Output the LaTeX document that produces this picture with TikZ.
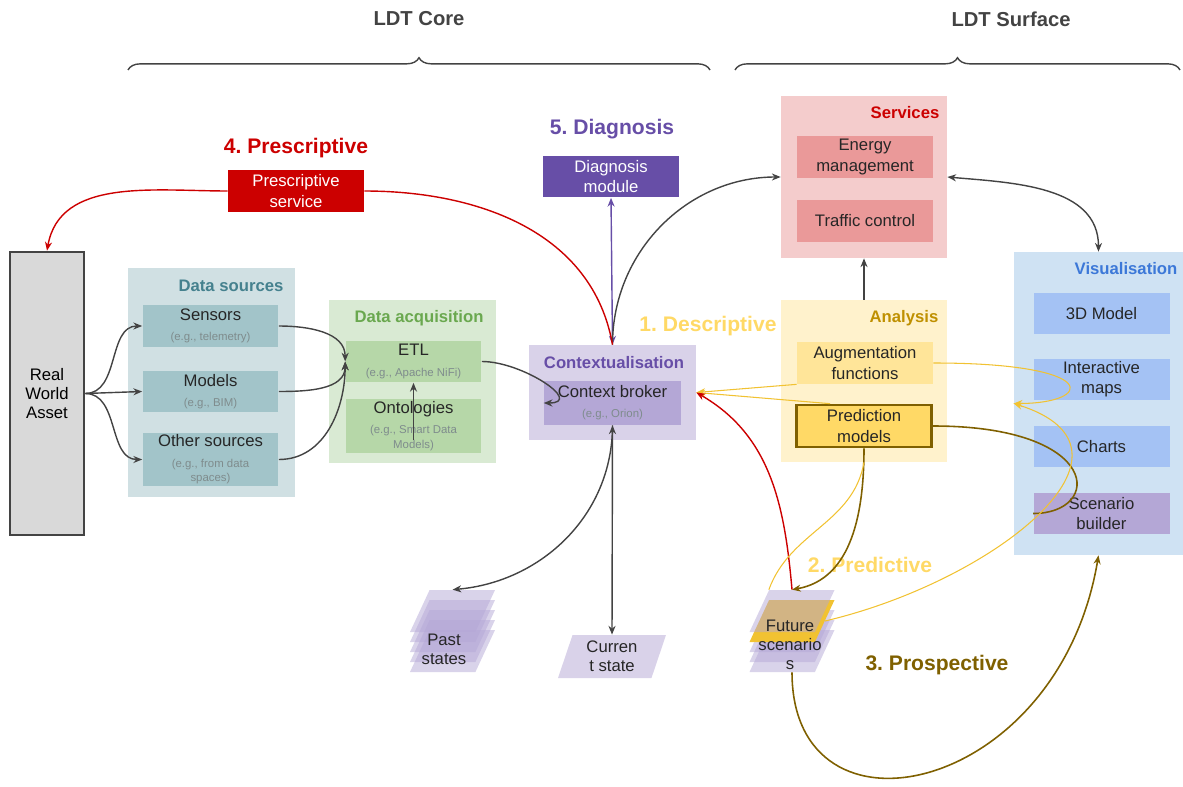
\documentclass[tikz,border=0pt]{standalone}
\usepackage{fontspec}
\setmainfont{Liberation Sans}
\usepackage{xcolor}
\usepackage{tikz}
\usetikzlibrary{shapes.geometric,decorations.pathreplacing,arrows.meta}

\definecolor{linec}{HTML}{434343}
\definecolor{rwafill}{HTML}{D9D9D9}
\definecolor{srcbg}{HTML}{D0E0E3}
\definecolor{srcbox}{HTML}{A2C4C9}
\definecolor{srctitle}{HTML}{45818E}
\definecolor{acqbg}{HTML}{D9EAD3}
\definecolor{acqbox}{HTML}{B6D7A8}
\definecolor{acqtitle}{HTML}{6AA84F}
\definecolor{ctxbg}{HTML}{D9D2E9}
\definecolor{ctxbox}{HTML}{B4A7D6}
\definecolor{ctxtitle}{HTML}{674EA7}
\definecolor{redc}{HTML}{CC0000}
\definecolor{servbg}{HTML}{F4CCCC}
\definecolor{servbox}{HTML}{EA9999}
\definecolor{anabg}{HTML}{FFF2CC}
\definecolor{anabox}{HTML}{FFE599}
\definecolor{predfill}{HTML}{FFD966}
\definecolor{olive}{HTML}{7F6000}
\definecolor{anatitle}{HTML}{BF9000}
\definecolor{visbg}{HTML}{CFE2F3}
\definecolor{visbox}{HTML}{A4C2F4}
\definecolor{vistitle}{HTML}{3C78D8}
\definecolor{ylinec}{HTML}{F1C232}
\definecolor{subc}{HTML}{7F8C8D}

\newcommand{\egnote}[1]{{\fontsize{6.5}{7.5}\selectfont\color{subc}#1}}
\newcommand{\layerstrut}{\rule{0pt}{0.84cm}}

\begin{document}
\frenchspacing
\begin{tikzpicture}[x=0.02cm, y=0.02cm, >={Stealth[length=5pt,width=4pt]}]
    % Define node styles
    \tikzstyle{group} = [rectangle, inner sep=0pt]
    \tikzstyle{item} = [rectangle, minimum width=2.72cm, minimum height=0.84cm, align=center, inner sep=1pt, font=\fontsize{9.5}{11.5}\selectfont, text=black!85]
    \tikzstyle{grouptitle} = [font=\fontsize{9.5}{11}\selectfont\bfseries]
    \tikzstyle{stage} = [font=\fontsize{12}{14}\selectfont\bfseries]
    \tikzstyle{stack} = [trapezium, trapezium left angle=65, trapezium right angle=115, trapezium stretches body, minimum width=1.7cm, inner sep=0pt, fill=ctxbox, fill opacity=0.5]
    \tikzstyle{flow} = [->, line width=0.8pt, draw=linec]
    \tikzstyle{redline} = [line width=0.8pt, draw=redc]
    \tikzstyle{yline} = [line width=0.6pt, draw=ylinec]
    \tikzstyle{oline} = [line width=0.9pt, draw=olive]

    \useasboundingbox (0,0) rectangle (1183,-787);

    % Braces on top
    \coordinate (coreL) at (128,-70);
    \coordinate (coreR) at (710,-70);
    \coordinate (surfL) at (735,-70);
    \coordinate (surfR) at (1180,-70);
    \draw[linec, line width=0.8pt, decorate, decoration={brace, amplitude=7pt}] (coreL) -- (coreR);
    \draw[linec, line width=0.8pt, decorate, decoration={brace, amplitude=7pt}] (surfL) -- (surfR);
    \node[stage, text=linec, font=\fontsize{11.5}{13}\selectfont\bfseries] (core) at (419,-19) {LDT Core};
    \node[stage, text=linec, font=\fontsize{11.5}{13}\selectfont\bfseries] (surf) at (1011,-19) {LDT Surface};

    % Real world asset
    \node[draw=linec, line width=1.5pt, fill=rwafill, minimum width=1.48cm, minimum height=5.66cm, align=center, font=\fontsize{9.5}{11}\selectfont] (rwa) at (47,-393.5) {Real\\World\\Asset};

    % Data sources
    \node[group, fill=srcbg, minimum width=3.34cm, minimum height=4.58cm] (srcG) at (211.5,-382.5) {};
    \node[grouptitle, text=srctitle] (srcT) at (231,-286) {Data sources};
    \node[item, fill=srcbox] (sensors) at (210.5,-326) {Sensors\\\egnote{(e.g., telemetry)}};
    \node[item, fill=srcbox] (models) at (210.5,-391.5) {Models\\\egnote{(e.g., BIM)}};
    \node[item, fill=srcbox] (others) at (210.5,-459.5) {Other sources\\\egnote{(e.g., from data}\\[-3pt]\egnote{spaces)}};

    % Data acquisition
    \node[group, fill=acqbg, minimum width=3.34cm, minimum height=3.26cm] (acqG) at (412.5,-381.5) {};
    \node[grouptitle, text=acqtitle] (acqT) at (419,-318) {Data acquisition};
    \node[item, fill=acqbox] (etl) at (413.5,-361.5) {ETL\\\egnote{(e.g., Apache NiFi)}};
    \node[item, fill=acqbox] (onto) at (413.5,-426) {Ontologies\\\egnote{(e.g., Smart Data}\\[-3pt]\egnote{Models)}};

    % Contextualisation
    \node[group, fill=ctxbg, minimum width=3.34cm, minimum height=1.9cm] (ctxG) at (612.5,-392.5) {};
    \node[grouptitle, text=ctxtitle] (ctxT) at (614,-363) {Contextualisation};
    \node[item, fill=ctxbox, minimum width=2.74cm, minimum height=0.88cm] (broker) at (612.5,-403) {Context broker\\\egnote{(e.g., Orion)}};

    % Diagnosis and prescription
    \node[stage, text=ctxtitle] (diagT) at (612,-129) {5. Diagnosis};
    \node[item, fill=ctxtitle, text=white] (diag) at (611,-176.5) {Diagnosis\\module};
    \node[stage, text=redc] (prescT) at (296,-148) {4. Prescriptive};
    \node[item, fill=redc, text=white] (presc) at (296,-191) {Prescriptive\\service};

    % Services
    \node[group, fill=servbg, minimum width=3.32cm, minimum height=3.24cm] (servG) at (864,-177) {};
    \node[grouptitle, text=redc] (servT) at (905,-113) {Services};
    \node[item, fill=servbox] (energy) at (865,-157) {Energy\\management};
    \node[item, fill=servbox] (traffic) at (865,-221) {Traffic control};

    % Analysis
    \node[group, fill=anabg, minimum width=3.32cm, minimum height=3.24cm] (anaG) at (864,-381) {};
    \node[grouptitle, text=anatitle] (anaT) at (904,-318) {Analysis};
    \node[item, fill=anabox] (augm) at (865,-363) {Augmentation\\functions};
    \node[item, fill=predfill, draw=olive, line width=1.5pt, minimum width=2.7cm, minimum height=0.84cm] (pred) at (864,-426) {Prediction\\models};

    % Visualisation
    \node[group, fill=visbg, minimum width=3.38cm, minimum height=6.06cm] (visG) at (1098.5,-403.5) {};
    \node[grouptitle, text=vistitle] (visT) at (1126,-269) {Visualisation};
    \node[item, fill=visbox] (model3d) at (1101.5,-313.5) {3D Model};
    \node[item, fill=visbox] (maps) at (1101.5,-379.5) {Interactive\\maps};
    \node[item, fill=visbox] (charts) at (1101.5,-446.5) {Charts};
    \node[item, fill=ctxbox] (builder) at (1101.5,-513.5) {Scenario\\builder};

    % Stage labels
    \node[stage, text=predfill] (descT) at (708,-326) {1. Descriptive};
    \node[stage, text=predfill] (predT) at (870,-565) {2. Predictive};
    \node[stage, text=olive] (prosT) at (937,-665) {3. Prospective};

    % States
    \node[stack] (pastE) at (452.5,-651) {\layerstrut};
    \node[stack] (pastD) at (452.5,-641) {\layerstrut};
    \node[stack] (pastC) at (452.5,-631) {\layerstrut};
    \node[stack] (pastB) at (452.5,-621) {\layerstrut};
    \node[stack] (pastA) at (452.5,-611) {\layerstrut};
    \node[align=center, font=\fontsize{9.5}{11}\selectfont, text=black!85] (pastT) at (444,-649) {Past\\states};
    \node[stack, fill=ctxbg, fill opacity=1, minimum width=2.16cm, minimum height=0.86cm, align=center, font=\fontsize{9.5}{11}\selectfont, text=black!85] (cur) at (612,-656.5) {Curren\\t state};
    \node[stack] (futE) at (792,-651) {\layerstrut};
    \node[stack] (futD) at (792,-641) {\layerstrut};
    \node[stack] (futC) at (792,-631) {\layerstrut};
    \node[stack, fill=ylinec, fill opacity=1] (futG) at (792,-621) {\layerstrut};
    \node[stack] (futA) at (792,-611) {\layerstrut};
    \node[align=center, font=\fontsize{9.5}{11}\selectfont, text=black!85] (futT) at (790,-645) {Future\\scenario\\s};

    % Asset to sources
    \draw[flow] (rwa.east) to[out=0, in=180] (sensors.west);
    \draw[flow] (rwa.east) -- (models.west);
    \draw[flow] (rwa.east) to[out=0, in=180] (others.west);

    % Sources into ETL
    \draw[flow] (sensors.east) to[out=0, in=90] (etl.west);
    \draw[flow] (models.east) to[out=0, in=-90] (etl.west);
    \draw[flow] (others.east) to[out=0, in=-90] (etl.west);
    \draw[flow] ([yshift=-0.28cm]onto.center) -- (etl.south);
    \draw[flow] (etl.east) to[out=0, in=0, looseness=1.4] (broker.west);

    % Context to diagnosis, services and prescription
    \draw[flow, <->, draw=ctxtitle] (ctxG.north) -- (diag.south);
    \draw[flow] (ctxG.north) to[out=90, in=180] (servG.west);
    \draw[redline] (ctxG.north) to[out=100, in=0] (presc.east);
    \draw[redline, ->] (presc.west) to[out=180, in=80] (rwa.north);

    % Surface links
    \draw[flow, <->] (servG.east) to[out=-5, in=90] (visG.north);
    \draw[flow] (anaG.north) -- (servG.south);
    \draw[yline, ->] (augm.south west) -- (ctxG.east);
    \draw[yline, ->] ([xshift=0.7cm]pred.north west) -- (ctxG.east);
    \draw[yline, ->] (augm.east) .. controls +(170,0) and +(80,0) .. (visG.west);
    \draw[oline] (pred.east) .. controls +(170,0) and +(70,0) .. (builder.west);

    % Future scenarios
    \draw[redline, ->] (futA.north) to[out=95, in=-30] (ctxG.east);
    \draw[oline, ->] (pred.south) to[out=-90, in=10] (futA.north);
    \draw[yline] (anaG.south) to[out=-100, in=70] (futA.top left corner);
    \draw[yline, ->] (futG.east) .. controls +(170,40) and +(146,-46) .. (visG.west);
    \draw[oline, ->] (futE.south) .. controls +(0,-180) and +(-40,-240) .. (visG.south);

    % Past and current states
    \draw[flow, <->] (broker.south) -- (cur.north);
    \draw[flow] (broker.south) to[out=-90, in=5] (pastA.north);
\end{tikzpicture}
\end{document}
